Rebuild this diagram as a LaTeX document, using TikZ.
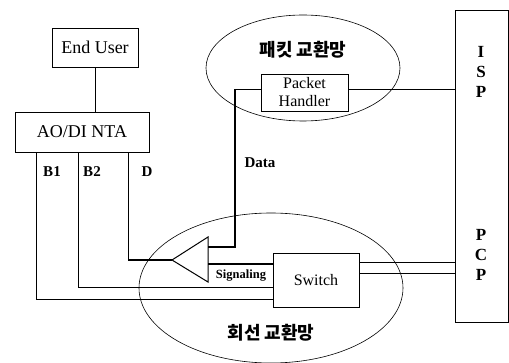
\documentclass[tikz,border=0pt]{standalone}
\usepackage{fontspec}
\setmainfont{Liberation Serif}
\newfontfamily\kor{Noto Sans CJK KR}
\usetikzlibrary{positioning,shapes.geometric,calc}

\begin{document}
\begin{tikzpicture}[x=1pt,y=-1pt,line width=0.8pt,font=\fontsize{16}{18}\selectfont]
  \tikzset{box/.style={draw,fill=white,inner sep=0pt,align=center},
    net/.style={draw,ellipse,line width=0.6pt,inner sep=0pt},
    tag/.style={font=\fontsize{15}{17}\selectfont\bfseries},
    netname/.style={font=\fontsize{18}{21}\selectfont\kor\bfseries},
    fat/.style={line width=1.8pt}}
  \useasboundingbox (0,0) rectangle (509,363);
  % networks
  \node[net,minimum width=194pt,minimum height=106pt] (pnet) at (303,68) {};
  \node[net,minimum width=264pt,minimum height=150pt] (cnet) at (271,288) {};
  \node[netname] (pname) at (303,50) {패킷 교환망};
  \node[netname] (cname) at (271,333) {회선 교환망};
  % boxes
  \node[box,minimum width=86pt,minimum height=39pt,font=\fontsize{18}{21}\selectfont] (user) at (95,47.5) {End User};
  \node[box,minimum width=134pt,minimum height=40pt,font=\fontsize{18}{21}\selectfont] (nta) at (82,132) {AO/DI NTA};
  \node[box,minimum width=87pt,minimum height=37pt] (ph) at (304.5,92.5) {Packet\\Handler};
  \node[box,minimum width=86pt,minimum height=54pt] (sw) at (316,280) {Switch};
  \node[box,minimum width=53pt,minimum height=312pt] (isp) at (481.5,166) {};
  \node[font=\fontsize{17}{20}\selectfont\bfseries,align=center] (ispname) at (481,72) {I\\S\\P};
  \node[font=\fontsize{17}{20}\selectfont\bfseries,align=center] (pcpname) at (481,255) {P\\C\\P};
  % splitter
  \coordinate (tip) at (172,260);
  \coordinate (dout) at (208,247);
  \coordinate (sig) at (208,264);
  \draw[line width=1pt] (tip) -- (208,237) -- (208,282) -- cycle;
  % channels
  \draw (user.south) -- (user.south |- nta.north);
  \draw ([xshift=22pt]nta.south west) |- ([yshift=8pt]sw.south west);
  \draw ([xshift=64pt]nta.south west) |- ([yshift=20pt]sw.south west);
  \draw[fat] ([xshift=-21pt]nta.south east) |- (tip);
  \draw[fat] (dout) -- ++(27,0) |- ([yshift=3pt]ph.west);
  \draw[fat] ([yshift=3pt]ph.east) -- ([yshift=3pt]ph.east -| isp.west);
  \draw[fat] (sig) -- (sig -| sw.west);
  \draw[fat] ([yshift=-10pt]sw.north east) -- ([yshift=-10pt]sw.north east -| isp.west);
  \draw ([yshift=-21pt]sw.north east) -- ([yshift=-21pt]sw.north east -| isp.west);
  % labels
  \node[tag] (b1) at (52,172) {B1};
  \node[tag] (b2) at (92,172) {B2};
  \node[tag] (d) at (147,172) {D};
  \node[tag] (data) at (260,163) {Data};
  \node[tag,font=\fontsize{12.5}{14}\selectfont\bfseries] (signal) at (241,276) {Signaling};
\end{tikzpicture}
\end{document}
